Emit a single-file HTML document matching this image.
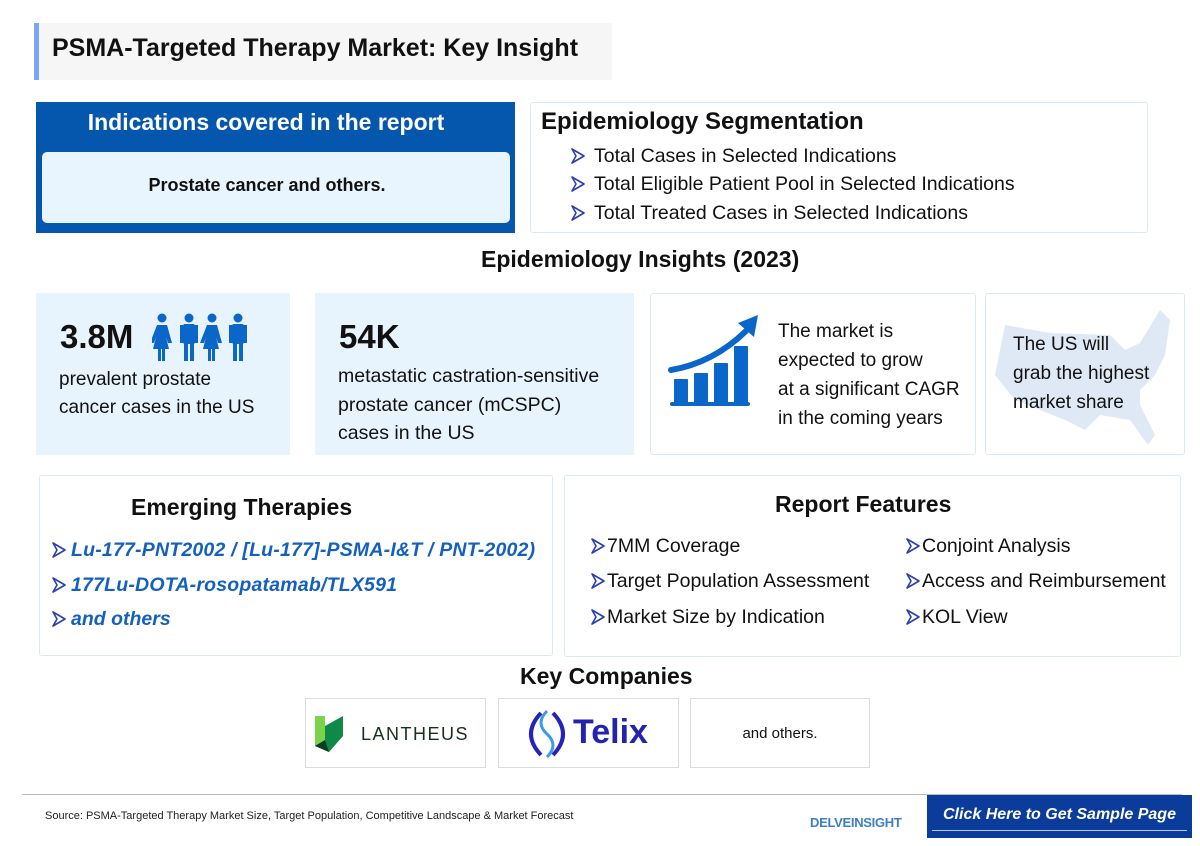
<!DOCTYPE html>
<html><head><meta charset="utf-8"><style>
*{margin:0;padding:0;box-sizing:border-box}
body{width:1200px;height:846px;background:#fff;font-family:"Liberation Sans",sans-serif;position:relative;overflow:hidden;color:#111}
.a{position:absolute}
.card{position:absolute;background:#e8f4fd}
.bord{position:absolute;border:1.5px solid #dbe9f7;border-radius:3px;background:#fff}
.arr{display:inline-block;width:14px;height:16px;vertical-align:-2px;margin-right:6px}
.h{font-weight:bold;font-size:23px;position:absolute;white-space:nowrap}
.t{position:absolute;font-size:19px;white-space:nowrap}
</style></head><body>
<svg width="0" height="0" style="position:absolute"><defs><symbol id="chev" viewBox="0 0 14 16"><path d="M1 1 L13 8 L1 15 L5 8 Z" fill="#fff" stroke="#2a3fb0" stroke-width="1.6" stroke-linejoin="round"/></symbol></defs></svg>

<div class="a" style="left:34px;top:23px;width:578px;height:57px;background:#f6f6f6;border-left:5px solid #7da6f2"></div>
<div class="a" style="left:52px;top:34px;font-size:25px;font-weight:bold;color:#111">PSMA-Targeted Therapy Market: Key Insight</div>

<div class="a" style="left:36px;top:102px;width:479px;height:131px;background:#0457ad"></div>
<div class="a" style="left:36px;top:109px;width:460px;text-align:center;color:#fff;font-size:23px;font-weight:bold">Indications covered in the report</div>
<div class="a" style="left:42px;top:152px;width:468px;height:71px;background:#e8f5fe;border-radius:5px"></div>
<div class="a" style="left:42px;top:175px;width:450px;text-align:center;font-size:18px;font-weight:bold">Prostate cancer and others.</div>

<div class="bord" style="left:530px;top:102px;width:618px;height:131px"></div>
<div class="h" style="left:541px;top:108px;font-size:24px">Epidemiology Segmentation</div>
<div class="t" style="left:571px;top:145px;font-size:19.5px"><svg class="arr" style="margin-right:9px"><use href="#chev"/></svg>Total Cases in Selected Indications</div>
<div class="t" style="left:571px;top:173px;font-size:19.5px"><svg class="arr" style="margin-right:9px"><use href="#chev"/></svg>Total Eligible Patient Pool in Selected Indications</div>
<div class="t" style="left:571px;top:202px;font-size:19.5px"><svg class="arr" style="margin-right:9px"><use href="#chev"/></svg>Total Treated Cases in Selected Indications</div>

<div class="h" style="left:481px;top:246px">Epidemiology Insights (2023)</div>

<div class="card" style="left:36px;top:293px;width:254px;height:162px"></div>
<div class="a" style="left:60px;top:318px;font-size:33px;font-weight:bold">3.8M</div>
<svg class="a" style="left:152px;top:313px" width="98" height="50" viewBox="0 0 98 50" fill="#0a66c8">
<g><circle cx="10" cy="5" r="4.5"/><path d="M5 12h10l5 18h-4l-2-6v0l3 12h-4v12h-3V36h-1v12h-3V36H1l3-12-2 6h-4z"/></g>
<g transform="translate(29,0)"><circle cx="8" cy="5" r="4.5"/><rect x="2" y="11" width="12" height="20" rx="2"/><rect x="3" y="30" width="4" height="18"/><rect x="9" y="30" width="4" height="18"/><rect x="-1" y="12" width="3" height="18"/><rect x="14" y="12" width="3" height="18"/></g>
<g transform="translate(50,0)"><circle cx="10" cy="5" r="4.5"/><path d="M5 12h10l5 18h-4l-2-6l3 12h-4v12h-3V36h-1v12h-3V36H1l3-12-2 6h-4z"/></g>
<g transform="translate(78,0)"><circle cx="8" cy="5" r="4.5"/><rect x="2" y="11" width="12" height="20" rx="2"/><rect x="3" y="30" width="4" height="18"/><rect x="9" y="30" width="4" height="18"/><rect x="-1" y="12" width="3" height="18"/><rect x="14" y="12" width="3" height="18"/></g>
</svg>
<div class="t" style="left:59px;top:366px;line-height:28px">prevalent prostate<br>cancer cases in the US</div>

<div class="card" style="left:315px;top:293px;width:319px;height:162px"></div>
<div class="a" style="left:339px;top:318px;font-size:33px;font-weight:bold">54K</div>
<div class="t" style="left:338px;top:362px;line-height:28.5px;font-size:19.5px">metastatic castration-sensitive<br>prostate cancer (mCSPC)<br>cases in the US</div>

<div class="bord" style="left:650px;top:293px;width:326px;height:162px"></div>
<svg class="a" style="left:668px;top:313px" width="100" height="95" viewBox="0 0 100 95" fill="#0a66c8">
<rect x="6" y="66" width="14" height="24" rx="1"/><rect x="26" y="60" width="14" height="30" rx="1"/><rect x="46" y="50" width="14" height="40" rx="1"/><rect x="66" y="33" width="14" height="57" rx="1"/>
<rect x="2" y="89" width="80" height="4" rx="2"/>
<path d="M3 57 Q45 50 78 18" stroke="#0a66c8" stroke-width="6" fill="none" stroke-linecap="round"/>
<path d="M70 10 L90 2 L86 24 Z"/>
</svg>
<div class="t" style="left:778px;top:317px;line-height:29px">The market is<br>expected to grow<br>at a significant CAGR<br>in the coming years</div>

<div class="bord" style="left:985px;top:293px;width:200px;height:162px"></div>
<svg class="a" style="left:990px;top:305px" width="190" height="145" viewBox="0 0 190 145">
<path d="M15 20 L60 28 L120 30 L135 45 L150 38 L170 5 L180 15 L175 50 L165 70 L150 85 L150 100 L165 130 L158 140 L140 115 L110 110 L95 125 L75 115 L50 105 L25 95 L5 70 Z" fill="#dfe9f5"/>
</svg>
<div class="t" style="left:1013px;top:330px;line-height:29px">The US will<br>grab the highest<br>market share</div>

<div class="bord" style="left:39px;top:475px;width:514px;height:181px"></div>
<div class="h" style="left:131px;top:494px">Emerging Therapies</div>
<div class="t" style="left:52px;top:539px;color:#1460bf;font-style:italic;font-weight:bold;font-size:19.5px;letter-spacing:0.2px"><svg class="arr" style="margin-right:5px"><use href="#chev"/></svg>Lu-177-PNT2002 / [Lu-177]-PSMA-I&amp;T / PNT-2002)</div>
<div class="t" style="left:52px;top:574px;color:#1460bf;font-style:italic;font-weight:bold;font-size:19.5px;letter-spacing:0.2px"><svg class="arr" style="margin-right:5px"><use href="#chev"/></svg>177Lu-DOTA-rosopatamab/TLX591</div>
<div class="t" style="left:52px;top:608px;color:#1460bf;font-style:italic;font-weight:bold;font-size:19.5px"><svg class="arr" style="margin-right:5px"><use href="#chev"/></svg>and others</div>

<div class="bord" style="left:564px;top:475px;width:617px;height:182px"></div>
<div class="h" style="left:775px;top:491px">Report Features</div>
<div class="t" style="left:591px;top:535px;font-size:19.5px"><svg class="arr" style="margin-right:2px"><use href="#chev"/></svg>7MM Coverage</div>
<div class="t" style="left:591px;top:570px;font-size:19.5px"><svg class="arr" style="margin-right:2px"><use href="#chev"/></svg>Target Population Assessment</div>
<div class="t" style="left:591px;top:606px;font-size:19.5px"><svg class="arr" style="margin-right:2px"><use href="#chev"/></svg>Market Size by Indication</div>
<div class="t" style="left:906px;top:535px;font-size:19.5px"><svg class="arr" style="margin-right:2px"><use href="#chev"/></svg>Conjoint Analysis</div>
<div class="t" style="left:906px;top:570px;font-size:19.5px"><svg class="arr" style="margin-right:2px"><use href="#chev"/></svg>Access and Reimbursement</div>
<div class="t" style="left:906px;top:606px;font-size:19.5px"><svg class="arr" style="margin-right:2px"><use href="#chev"/></svg>KOL View</div>

<div class="h" style="left:520px;top:663px">Key Companies</div>
<div class="a" style="left:305px;top:698px;width:181px;height:70px;border:1px solid #ddd"></div>
<svg class="a" style="left:315px;top:716px" width="36" height="38" viewBox="0 0 36 38"><path d="M0 0h10v24L0 30Z" fill="#7ad34a"/><path d="M0 30L10 24V10L28 0v20L14 36Z" fill="#0d8a48"/><path d="M0 30L14 36L10 24Z" fill="#0a3d22"/></svg>
<div class="a" style="left:361px;top:724px;font-size:18px;letter-spacing:1.5px;color:#17301e">LANTHEUS</div>
<div class="a" style="left:498px;top:698px;width:181px;height:70px;border:1px solid #ddd"></div>
<svg class="a" style="left:527px;top:709px" width="40" height="50" viewBox="0 0 40 50"><path d="M14 4 Q-6 25 14 46" stroke="#2424b8" stroke-width="4" fill="none"/><path d="M26 4 Q46 25 26 46" stroke="#2424b8" stroke-width="4" fill="none"/><path d="M20 2 Q8 14 20 25 Q32 36 20 48" stroke="#3c9be8" stroke-width="3" fill="none"/></svg>
<div class="a" style="left:573px;top:713px;font-size:34px;font-weight:bold;color:#2323b0">Telix</div>
<div class="a" style="left:690px;top:698px;width:180px;height:70px;border:1px solid #ddd"></div>
<div class="a" style="left:690px;top:725px;width:180px;text-align:center;font-size:15px">and others.</div>

<div class="a" style="left:22px;top:794px;width:1160px;height:1px;background:#bbb"></div>
<div class="a" style="left:45px;top:810px;font-size:11px;color:#222">Source: PSMA-Targeted Therapy Market Size, Target Population, Competitive Landscape &amp; Market Forecast</div>
<div class="a" style="left:810px;top:815px;font-size:13px;font-weight:bold;color:#3d7fc4;letter-spacing:-0.3px">DELVEINSIGHT</div>
<div class="a" style="left:927px;top:795px;width:265px;height:43px;background:#0b3b9b;color:#fff;font-style:italic;font-weight:bold;font-size:16px;text-align:center;padding-top:11px">Click Here to Get Sample Page<div style="position:absolute;left:5px;right:5px;top:35px;height:1px;background:#b9c8e8"></div></div>
</body></html>
